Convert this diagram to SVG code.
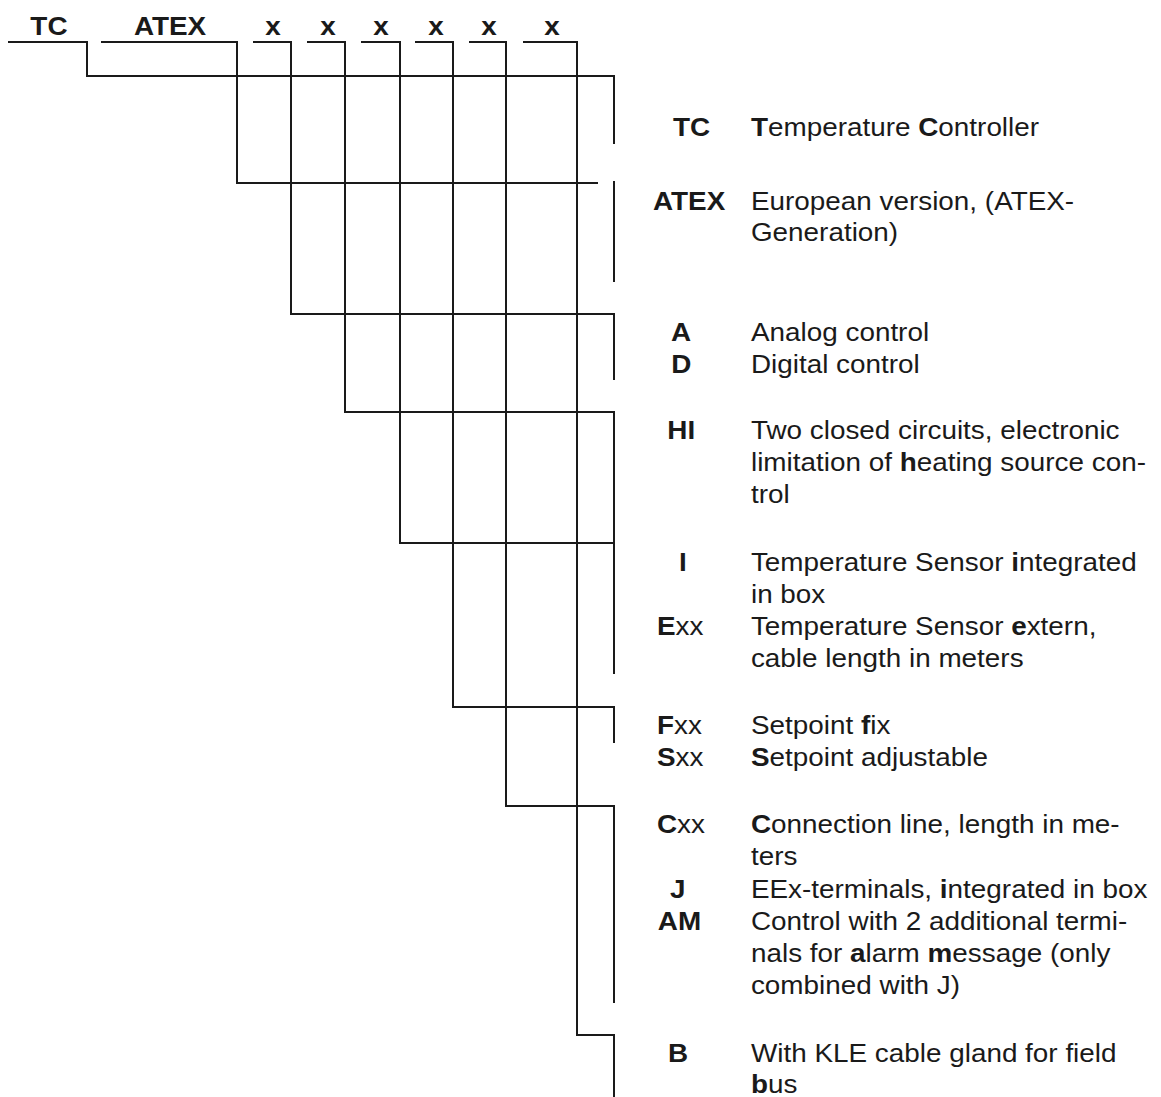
<svg xmlns="http://www.w3.org/2000/svg" width="1161" height="1097" viewBox="0 0 1161 1097">
<style>
.ln{stroke:#1a1a1a;stroke-width:2;fill:none;stroke-linecap:square}
.t{font-family:"Liberation Sans",Arial,sans-serif;font-size:25px;fill:#1a1a1a}
.b{font-weight:bold}
.hd{text-anchor:middle;font-weight:bold}
</style>
<rect width="1161" height="1097" fill="#ffffff"/>
<g id="connectors" class="ln">
<path d="M9 42H87V76H614V143"/>
<path d="M102 42H237V183H597"/>
<path d="M614 182V281"/>
<path d="M254 42H291V314H614V379"/>
<path d="M308 42H345V412H614V673"/>
<path d="M362 42H400V543H614"/>
<path d="M416 42H453V707H614V742"/>
<path d="M470 42H506V806H614V1002"/>
<path d="M524 42H577V1035H614V1097"/>
</g>
<g transform="scale(1.115 1)" class="t">
<g id="header">
<text class="hd" x="43.9" y="35">TC</text>
<text class="hd" x="152.5" y="35">ATEX</text>
<text class="hd" x="244.8" y="35">x</text>
<text class="hd" x="294.2" y="35">x</text>
<text class="hd" x="341.7" y="35">x</text>
<text class="hd" x="391" y="35">x</text>
<text class="hd" x="438.6" y="35">x</text>
<text class="hd" x="495.1" y="35">x</text>
</g>
<g id="node-tc">
<text class="b" x="603.6" y="136">TC</text>
<text x="673.5" y="136"><tspan class="b">T</tspan>emperature <tspan class="b">C</tspan>ontroller</text>
</g>
<g id="node-atex">
<text class="b" x="585.7" y="210">ATEX</text>
<text x="673.5" y="210">European version, (ATEX-</text>
<text x="673.5" y="241">Generation)</text>
</g>
<g id="node-control">
<text class="b" x="601.8" y="341">A</text>
<text x="673.5" y="341">Analog control</text>
<text class="b" x="602" y="373">D</text>
<text x="673.5" y="373">Digital control</text>
</g>
<g id="node-hi">
<text class="b" x="598.5" y="439">HI</text>
<text x="673.5" y="439">Two closed circuits, electronic</text>
<text x="673.5" y="471">limitation of <tspan class="b">h</tspan>eating source con-</text>
<text x="673.5" y="503">trol</text>
</g>
<g id="node-sensor">
<text class="b" x="609" y="571">I</text>
<text x="673.5" y="571">Temperature Sensor <tspan class="b">i</tspan>ntegrated</text>
<text x="673.5" y="603">in box</text>
<text x="589.2" y="635"><tspan class="b">E</tspan>xx</text>
<text x="673.5" y="635">Temperature Sensor <tspan class="b">e</tspan>xtern,</text>
<text x="673.5" y="667">cable length in meters</text>
</g>
<g id="node-setpoint">
<text x="589.2" y="734"><tspan class="b">F</tspan>xx</text>
<text x="673.5" y="734">Setpoint <tspan class="b">f</tspan>ix</text>
<text x="589.2" y="766"><tspan class="b">S</tspan>xx</text>
<text x="673.5" y="766"><tspan class="b">S</tspan>etpoint adjustable</text>
</g>
<g id="node-connection">
<text x="589.2" y="833"><tspan class="b">C</tspan>xx</text>
<text x="673.5" y="833"><tspan class="b">C</tspan>onnection line, length in me-</text>
<text x="673.5" y="865">ters</text>
<text class="b" x="601" y="898">J</text>
<text x="673.5" y="898">EEx-terminals, <tspan class="b">i</tspan>ntegrated in box</text>
<text class="b" x="590" y="930">AM</text>
<text x="673.5" y="930">Control with 2 additional termi-</text>
<text x="673.5" y="962">nals for <tspan class="b">a</tspan>larm <tspan class="b">m</tspan>essage (only</text>
<text x="673.5" y="994">combined with J)</text>
</g>
<g id="node-bus">
<text class="b" x="599" y="1062">B</text>
<text x="673.5" y="1062">With KLE cable gland for field</text>
<text x="673.5" y="1093"><tspan class="b">b</tspan>us</text>
</g>
</g>
</svg>
